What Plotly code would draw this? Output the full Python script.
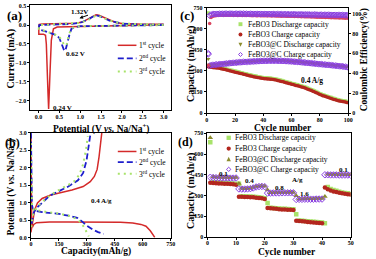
import plotly.graph_objects as go

SERIF = "Liberation Serif"
W, H = 376, 259

# ---------------- (a) cyclic voltammetry ----------------
a_pot_1st = [3.0, 2.5, 2.0, 1.5, 1.0, 0.8, 0.6, 0.45, 0.36, 0.31, 0.28, 0.26, 0.245, 0.23, 0.21, 0.19, 0.17, 0.12, 0.05, 0.01,
             0.01, 0.02, 0.1, 0.5, 0.9, 1.05, 1.2, 1.3, 1.38, 1.45, 1.55, 1.7, 1.85, 2.0, 2.5, 3.0]
a_cur_1st = [0.01, 0.0, -0.01, -0.02, -0.03, -0.03, -0.04, -0.05, -0.1, -0.4, -1.2, -1.9, -2.22, -1.8, -1.0, -0.5, -0.27, -0.24, -0.24, -0.24,
             -0.05, 0.02, 0.03, 0.04, 0.05, 0.08, 0.16, 0.23, 0.27, 0.26, 0.21, 0.13, 0.07, 0.04, 0.02, 0.02]
a_pot_2nd = [3.0, 2.0, 1.5, 1.0, 0.85, 0.79, 0.74, 0.69, 0.65, 0.62, 0.59, 0.55, 0.5, 0.42, 0.3, 0.15, 0.05, 0.01,
             0.02, 0.3, 0.8, 1.0, 1.2, 1.3, 1.38, 1.5, 1.7, 2.0, 2.5, 3.0]
a_cur_2nd = [0.0, -0.01, -0.02, -0.03, -0.06, -0.1, -0.27, -0.52, -0.66, -0.68, -0.6, -0.45, -0.34, -0.26, -0.21, -0.16, -0.13, -0.11,
             0.0, 0.01, 0.03, 0.06, 0.15, 0.22, 0.26, 0.22, 0.12, 0.04, 0.01, 0.01]
a_pot_3rd = [3.0, 2.0, 1.0, 0.85, 0.78, 0.72, 0.68, 0.65, 0.62, 0.58, 0.52, 0.4, 0.2, 0.05, 0.01,
             0.02, 0.5, 1.0, 1.2, 1.3, 1.38, 1.5, 1.7, 2.0, 3.0]
a_cur_3rd = [0.0, -0.01, -0.03, -0.05, -0.1, -0.3, -0.5, -0.55, -0.53, -0.45, -0.34, -0.25, -0.17, -0.12, -0.1,
             0.0, 0.02, 0.06, 0.14, 0.2, 0.25, 0.22, 0.12, 0.04, 0.01]

# ---------------- (b) charge / discharge ----------------
b_cap_1st = [0, 1, 2, 4, 8, 15, 30, 100, 200, 300, 400, 480, 546, 590, 617, 640, 664, None,
             0, 5, 10, 20, 35, 60, 106, 160, 220, 280, 318, 340, 355, 365, 372, 380]
b_pot_1st = [2.95, 1.8, 0.9, 0.45, 0.30, 0.38, 0.43, 0.45, 0.45, 0.45, 0.45, 0.44, 0.42, 0.38, 0.33, 0.2, 0.01, None,
             0.15, 0.35, 0.55, 0.8, 0.99, 1.12, 1.22, 1.28, 1.36, 1.46, 1.6, 1.75, 1.95, 2.3, 2.65, 3.0]
b_cap_2nd = [0, 2, 5, 10, 30, 60, 106, 150, 200, 248, 275, 301, 330, 360, 390, None,
             3, 8, 15, 30, 60, 101, 150, 200, 252, 280, 298, 310, 320]
b_pot_2nd = [3.0, 1.5, 0.95, 0.82, 0.76, 0.73, 0.71, 0.68, 0.63, 0.57, 0.46, 0.34, 0.24, 0.16, 0.11, None,
             0.4, 0.6, 0.72, 0.85, 1.0, 1.2, 1.33, 1.46, 1.64, 1.85, 2.2, 2.6, 3.0]
b_cap_3rd = [0, 2, 6, 15, 50, 100, 160, 210, 240, 265, 285, 300, 310, None,
             2, 8, 15, 40, 80, 130, 180, 230, 260, 280, 295, 305]
b_pot_3rd = [2.7, 1.2, 0.85, 0.80, 0.76, 0.72, 0.68, 0.62, 0.55, 0.45, 0.3, 0.15, 0.04, None,
             0.3, 0.6, 0.72, 0.92, 1.12, 1.3, 1.45, 1.6, 1.8, 2.1, 2.5, 2.9]

# ---------------- (c) cycling at 0.4 A/g ----------------
c_cycles = list(range(1, 101))
c_fe_dis = [712, 338, 331, 330, 329, 328, 327, 326, 324, 322,
            320, 317, 315, 312, 310, 307, 305, 302, 300, 297,
            295, 292, 290, 287, 285, 282, 280, 277, 275, 272,
            270, 268, 265, 263, 261, 259, 257, 255, 253, 252,
            251, 250, 249, 248, 247, 246, 245, 243, 241, 238,
            236, 233, 231, 228, 225, 222, 220, 217, 214, 211,
            209, 206, 203, 201, 198, 195, 192, 189, 186, 183,
            178, 174, 170, 166, 162, 157, 153, 148, 143, 138,
            134, 130, 127, 124, 120, 117, 113, 110, 106, 103,
            100, 97, 94, 92, 90, 88, 86, 84, 82, 79]
c_fe_chg = [330, 326, 325, 324, 323, 322, 321, 320, 318, 316,
            314, 311, 309, 306, 304, 301, 299, 296, 294, 291,
            289, 286, 284, 281, 279, 276, 274, 271, 269, 266,
            264, 262, 259, 257, 255, 253, 251, 249, 247, 246,
            245, 244, 243, 242, 241, 240, 239, 237, 235, 232,
            230, 227, 225, 222, 219, 216, 214, 211, 208, 205,
            203, 200, 197, 195, 192, 189, 186, 183, 180, 177,
            172, 168, 164, 160, 156, 151, 147, 142, 137, 132,
            128, 124, 121, 118, 114, 111, 107, 104, 100, 97,
            94, 91, 88, 86, 84, 82, 80, 78, 76, 73]
c_fec_dis = [385, 345, 343, 345, 346, 347, 348, 349, 350, 351,
             352, 353, 354, 355, 356, 357, 358, 359, 360, 361,
             362, 363, 364, 364, 365, 366, 367, 367, 368, 369,
             369, 370, 370, 371, 371, 372, 372, 373, 373, 374,
             374, 374, 375, 375, 375, 375, 375, 375, 375, 375,
             374, 374, 374, 373, 373, 372, 372, 371, 371, 370,
             369, 369, 368, 367, 366, 365, 364, 363, 362, 361,
             360, 359, 358, 357, 356, 355, 354, 353, 352, 351,
             350, 349, 348, 347, 346, 345, 344, 343, 342, 341,
             340, 339, 338, 337, 336, 335, 333, 332, 330, 328]
c_fec_chg = [425, 336, 340, 342, 343, 344, 345, 346, 347, 348,
             349, 350, 351, 352, 353, 354, 355, 356, 357, 358,
             359, 360, 361, 361, 362, 363, 364, 364, 365, 366,
             366, 367, 367, 368, 368, 369, 369, 370, 370, 371,
             371, 371, 372, 372, 372, 372, 372, 372, 372, 372,
             371, 371, 371, 370, 370, 369, 369, 368, 368, 367,
             366, 366, 365, 364, 363, 362, 361, 360, 359, 358,
             357, 356, 355, 354, 353, 352, 351, 350, 349, 348,
             347, 346, 345, 344, 343, 342, 341, 340, 339, 338,
             337, 336, 335, 334, 333, 332, 330, 329, 327, 325]
c_fe_ce = [48, 90, 96, 97, 97.5, 97.8, 98, 98, 98.2, 98.2,
           98.3, 98.3, 98.2, 98.4, 98.3, 98.2, 98.3, 98.4, 98.2, 98.3,
           98.2, 98.1, 98.3, 98.2, 98.1, 98.2, 98, 98.1, 98.2, 98,
           98.1, 97.9, 98, 98.1, 97.9, 97.8, 98, 97.9, 97.8, 97.9,
           97.8, 97.7, 97.9, 97.8, 97.7, 97.6, 97.8, 97.7, 97.6, 97.5,
           97.6, 97.5, 97.4, 97.6, 97.5, 97.4, 97.3, 97.4, 97.2, 97.3,
           97.2, 97.1, 97.2, 97, 97.1, 97, 96.9, 97, 96.8, 96.9,
           96.8, 96.7, 96.8, 96.6, 96.7, 96.5, 96.6, 96.4, 96.5, 96.3,
           96.4, 96.2, 96.3, 96.1, 96.2, 96, 96.1, 95.9, 96, 95.8,
           95.9, 95.7, 95.8, 95.6, 95.7, 95.5, 95.6, 95.4, 95.5, 95.3]
c_fec_ce = [59, 98, 99, 99.3, 99.5, 99.6, 99.7, 99.6, 99.8, 99.7,
            99.8, 99.7, 99.9, 99.8, 99.7, 99.8, 99.9, 99.8, 99.7, 99.8,
            99.8, 99.7, 99.8, 99.9, 99.7, 99.8, 99.7, 99.8, 99.6, 99.7,
            99.8, 99.6, 99.7, 99.6, 99.7, 99.5, 99.6, 99.7, 99.5, 99.6,
            99.5, 99.6, 99.4, 99.5, 99.6, 99.4, 99.5, 99.3, 99.4, 99.5,
            99.3, 99.4, 99.3, 99.2, 99.4, 99.3, 99.2, 99.3, 99.1, 99.2,
            99.3, 99.1, 99.2, 99, 99.1, 99.2, 99, 99.1, 98.9, 99,
            99.1, 98.9, 99, 98.8, 98.9, 99, 98.8, 98.9, 98.7, 98.8,
            98.9, 98.7, 98.8, 98.6, 98.7, 98.8, 98.6, 98.7, 98.5, 98.6,
            98.7, 98.5, 98.6, 98.4, 98.5, 98.6, 98.4, 98.5, 98.3, 98.4]

# ---------------- (d) rate performance ----------------
d_cycles = list(range(1, 51))
d_fe_dis = [685, 398, 394, 393, 392, 391, 390, 389, 387, 384,
            385, 296, 295, 294, 293, 292, 290, 288, 285, 281,
            247, 213, 211, 209, 207, 205, 204, 203, 202, 201,
            165, 121, 119, 117, 115, 113, 111, 109, 107, 105,
            101, 362, 348, 340, 334, 328, 323, 319, 316, 312]
d_fe_chg = [392, 390, 389, 388, 387, 386, 385, 384, 382, 378,
            292, 291, 290, 289, 288, 287, 285, 283, 280, 276,
            210, 208, 206, 204, 202, 200, 199, 198, 197, 196,
            118, 116, 114, 112, 110, 108, 106, 104, 102, 100,
            358, 345, 337, 330, 325, 320, 316, 313, 310, 307]
d_fec_dis = [717, 436, 433, 432, 431, 431, 430, 430, 429, 430,
             388, 351, 350, 351, 353, 358, 365, 368, 369, 367,
             341, 321, 321, 322, 322, 322, 323, 323, 323, 323,
             299, 276, 276, 277, 277, 277, 277, 278, 278, 278,
             294, 453, 452, 452, 452, 451, 451, 451, 451, 450]
d_fec_chg = [432, 430, 429, 428, 428, 427, 427, 426, 426, 427,
             348, 347, 347, 348, 350, 355, 362, 365, 366, 364,
             318, 318, 319, 319, 319, 320, 320, 320, 320, 320,
             272, 273, 273, 274, 274, 274, 274, 275, 275, 275,
             450, 450, 449, 449, 449, 448, 448, 448, 448, 447]
d_rate_labels = ["0.1", "0.4", "0.8", "A/g", "1.6", "0.1"]

series_names = ["FeBO3 Discharge capacity", "FeBO3 Charge capacity",
                "FeBO3@C Discharge capacity", "FeBO3@C Charge capacity"]
cycle_names = ["1<sup>st</sup> cycle", "2<sup>nd</sup> cycle", "3<sup>rd</sup> cycle"]

RED = "#D42A2A"
BLUE = "#1E1ECC"
LGREEN = "#A8E36A"
DRED = "#B3261E"
OLIVE = "#8C8C2E"
PURPLE = "#8A3FE0"


def fx(p):
    return p / W


def fy(p):
    return 1 - p / H


fig = go.Figure()

# (a)
fig.add_trace(go.Scatter(x=a_pot_1st, y=a_cur_1st, mode="lines", line=dict(color=RED, width=1.5),
                         xaxis="x", yaxis="y"))
fig.add_trace(go.Scatter(x=a_pot_2nd, y=a_cur_2nd, mode="lines", line=dict(color=BLUE, width=1.8, dash="6px,3px"),
                         xaxis="x", yaxis="y"))
fig.add_trace(go.Scatter(x=a_pot_3rd, y=a_cur_3rd, mode="lines", line=dict(color=LGREEN, width=2, dash="2px,4px"),
                         xaxis="x", yaxis="y"))
# (b)
fig.add_trace(go.Scatter(x=b_cap_1st, y=b_pot_1st, mode="lines", line=dict(color=RED, width=1.5),
                         xaxis="x2", yaxis="y2"))
fig.add_trace(go.Scatter(x=b_cap_2nd, y=b_pot_2nd, mode="lines", line=dict(color=BLUE, width=1.8, dash="6px,3px"),
                         xaxis="x2", yaxis="y2"))
fig.add_trace(go.Scatter(x=b_cap_3rd, y=b_pot_3rd, mode="lines", line=dict(color=LGREEN, width=2, dash="2px,4px"),
                         xaxis="x2", yaxis="y2"))

# (c)
mk_sq = dict(symbol="square", size=3.5, color=LGREEN, line=dict(width=0))
mk_ci = dict(symbol="circle", size=3.5, color=DRED, line=dict(width=0))
mk_tr_c = dict(symbol="triangle-down", size=4, color=OLIVE, line=dict(width=0))
mk_di = dict(symbol="diamond-open", size=4.5, color=PURPLE, line=dict(width=1, color=PURPLE))
fig.add_trace(go.Scatter(x=c_cycles, y=c_fe_dis, mode="markers", marker=mk_sq, xaxis="x3", yaxis="y3"))
fig.add_trace(go.Scatter(x=c_cycles, y=c_fe_chg, mode="markers", marker=mk_ci, xaxis="x3", yaxis="y3"))
fig.add_trace(go.Scatter(x=c_cycles, y=c_fec_dis, mode="markers", marker=mk_tr_c, xaxis="x3", yaxis="y3"))
fig.add_trace(go.Scatter(x=c_cycles, y=c_fec_chg, mode="markers", marker=mk_di, xaxis="x3", yaxis="y3"))
fig.add_trace(go.Scatter(x=c_cycles, y=c_fe_ce, mode="markers", marker=dict(symbol="circle", size=3.5, color="#D9455F"),
                         xaxis="x3", yaxis="y5"))
fig.add_trace(go.Scatter(x=c_cycles, y=c_fec_ce, mode="markers", marker=mk_di, xaxis="x3", yaxis="y5"))

# (d)
mk_tr_d = dict(symbol="triangle-up", size=5, color=OLIVE, line=dict(width=0))
fig.add_trace(go.Scatter(x=d_cycles, y=d_fe_dis, mode="markers", marker=dict(mk_sq, size=4.5), xaxis="x4", yaxis="y4"))
fig.add_trace(go.Scatter(x=d_cycles, y=d_fe_chg, mode="markers", marker=dict(mk_ci, size=4.5), xaxis="x4", yaxis="y4"))
fig.add_trace(go.Scatter(x=d_cycles, y=d_fec_dis, mode="markers", marker=mk_tr_d, xaxis="x4", yaxis="y4"))
fig.add_trace(go.Scatter(x=d_cycles, y=d_fec_chg, mode="markers", marker=dict(mk_di, size=5), xaxis="x4", yaxis="y4"))

tickfont = dict(family=SERIF, size=6, color="black", weight="bold")
common = dict(showline=True, linecolor="black", linewidth=1, mirror=True, ticks="outside", ticklen=2,
              tickwidth=1, tickcolor="black", showgrid=False, zeroline=False, tickfont=tickfont)
xcommon = dict(common, ticklabelstandoff=-1)
xcommon_low = dict(common, ticklabelstandoff=-2)

fig.update_layout(
    width=W, height=H, margin=dict(l=0, r=0, t=0, b=0), showlegend=False,
    paper_bgcolor="white", plot_bgcolor="white",
    xaxis=dict(xcommon, domain=[fx(29), fx(172)], range=[-0.19, 3.17], tickvals=[0, 0.5, 1, 1.5, 2, 2.5, 3],
               tickformat=".1f", anchor="y"),
    yaxis=dict(common, domain=[fy(109.3), fy(1.7)], range=[-2.24, 0.54], tickvals=[-2, -1.5, -1, -0.5, 0, 0.5],
               tickformat=".1f", anchor="x"),
    xaxis2=dict(xcommon_low, domain=[fx(29.5), fx(172)], range=[0, 750], tickvals=[0, 150, 300, 450, 600, 750],
                anchor="y2"),
    yaxis2=dict(common, domain=[fy(240.3), fy(132.7)], range=[0, 3], tickvals=[0, 0.5, 1, 1.5, 2, 2.5, 3],
                tickformat=".1f", anchor="x2"),
    xaxis3=dict(xcommon, domain=[fx(208.7), fx(352.7)], range=[0, 100], tickvals=[0, 20, 40, 60, 80, 100],
                anchor="y3"),
    yaxis3=dict(common, domain=[fy(112.7), fy(4.7)], range=[0, 750], tickvals=[0, 150, 300, 450, 600, 750],
                anchor="x3", mirror=False),
    yaxis5=dict(common, range=[0, 106], tickvals=[0, 20, 40, 60, 80, 100], overlaying="y3", side="right",
                anchor="x3", mirror=False),
    xaxis4=dict(xcommon_low, domain=[fx(209.3), fx(355.3)], range=[0, 50], tickvals=[0, 10, 20, 30, 40, 50],
                anchor="y4"),
    yaxis4=dict(common, domain=[fy(239.7), fy(133.3)], range=[0, 750], tickvals=[0, 150, 300, 450, 600, 750],
                anchor="x4"),
)


def ann(text, x, y, size, bold=True, xanchor="center", angle=0):
    return dict(text=text, x=fx(x), y=fy(y), xref="paper", yref="paper", showarrow=False,
                font=dict(family=SERIF, size=size, color="black", weight="bold" if bold else "normal"),
                xanchor=xanchor, yanchor="middle", textangle=angle, borderpad=0)


pot_title = "Potential (V <i>vs.</i> Na/Na<sup>+</sup>)"
anns = [
    ann("(a)", 13, 13, 13), ann("(b)", 11, 143, 12), ann("(c)", 188, 13, 13), ann("(d)", 187, 142, 12),
    ann("Current (mA)", 9, 57, 10, angle=-90),
    ann(pot_title, 101, 128, 9.5),
    ann(pot_title, 9, 188, 9.5, angle=-90),
    ann("Capacity(mAh/g)", 96, 254.5, 9.5),
    ann("Capacity (mAh/g)", 192, 62, 10, angle=-90),
    ann("Coulombic Efficiency(%)", 369.5, 58, 9.5, angle=-90),
    ann("Cycle number", 286, 127.5, 9.5),
    ann("Capacity (mAh/g)", 192, 192, 10, angle=-90),
    ann("Cycle number", 290, 254.5, 9.5),
    ann("1.32V", 78.5, 9.5, 7), ann("0.62 V", 75, 52.7, 7), ann("0.24 V", 62, 107, 7),
    ann("0.4 A/g", 101, 203, 7), ann("0.4 A/g", 316, 79, 7.5),
]
# arrow near 1.32 V peak
anns.append(dict(x=fx(79), y=fy(15.5), ax=10, ay=-3.5, xref="paper", yref="paper", axref="pixel",
                 ayref="pixel", showarrow=True, arrowhead=2, arrowsize=0.7, arrowwidth=1, arrowcolor="black", text=""))
# rate labels in (d)
rate_pos = [(226, 174.7), (252.7, 182.3), (282.7, 189.7), (301, 181.3), (308.7, 195.7), (347.7, 170.7)]
for lab, (px_, py_) in zip(d_rate_labels, rate_pos):
    anns.append(ann(lab, px_, py_, 7))

shapes = []
# line legends (a) and (b)
styles = [dict(color=RED, width=1.5), dict(color=BLUE, width=1.8, dash="6px,3px"),
          dict(color=LGREEN, width=2, dash="2px,4px")]
for ys in ([43.3, 56.7, 70.0], [152, 163, 174.7]):
    for name, st, yy in zip(cycle_names, styles, ys):
        shapes.append(dict(type="line", xref="paper", yref="paper", x0=fx(118), x1=fx(137), y0=fy(yy), y1=fy(yy),
                           line=st))
        anns.append(ann(name, 139, yy, 7.5, bold=False, xanchor="left"))


def marker_shape(kind, cx, cy, r, color):
    if kind == "square":
        return dict(type="rect", xref="paper", yref="paper", x0=fx(cx - r), x1=fx(cx + r), y0=fy(cy + r),
                    y1=fy(cy - r), fillcolor=color, line=dict(width=0))
    if kind == "circle":
        return dict(type="circle", xref="paper", yref="paper", x0=fx(cx - r), x1=fx(cx + r), y0=fy(cy + r),
                    y1=fy(cy - r), fillcolor=color, line=dict(width=0))
    if kind == "tdown":
        p = f"M {fx(cx - r)},{fy(cy - r)} L {fx(cx + r)},{fy(cy - r)} L {fx(cx)},{fy(cy + r)} Z"
        return dict(type="path", xref="paper", yref="paper", path=p, fillcolor=color, line=dict(width=0))
    if kind == "tup":
        p = f"M {fx(cx - r)},{fy(cy + r)} L {fx(cx + r)},{fy(cy + r)} L {fx(cx)},{fy(cy - r)} Z"
        return dict(type="path", xref="paper", yref="paper", path=p, fillcolor=color, line=dict(width=0))
    p = f"M {fx(cx)},{fy(cy - r)} L {fx(cx + r)},{fy(cy)} L {fx(cx)},{fy(cy + r)} L {fx(cx - r)},{fy(cy)} Z"
    return dict(type="path", xref="paper", yref="paper", path=p, fillcolor="rgba(0,0,0,0)",
                line=dict(width=1, color=color))


kinds_c = [("square", LGREEN), ("circle", DRED), ("tdown", OLIVE), ("diamond", PURPLE)]
kinds_d = [("square", LGREEN), ("circle", DRED), ("tup", OLIVE), ("diamond", PURPLE)]
for (k, col), name, yy in zip(kinds_c, series_names, [21.7, 32.3, 42.7, 52.7]):
    shapes.append(marker_shape(k, 243, yy, 2, col))
    anns.append(ann(name, 250, yy, 7.5, bold=False, xanchor="left"))
for (k, col), name, yy in zip(kinds_d, series_names, [138, 149, 159.7, 170.3]):
    shapes.append(marker_shape(k, 231, yy, 2.2, col))
    anns.append(ann(name, 236, yy, 7.5, bold=False, xanchor="left"))

fig.update_layout(annotations=anns, shapes=shapes)
fig.write_html("out.html", config={"displayModeBar": False},
               post_script="document.body.style.margin='0';")
